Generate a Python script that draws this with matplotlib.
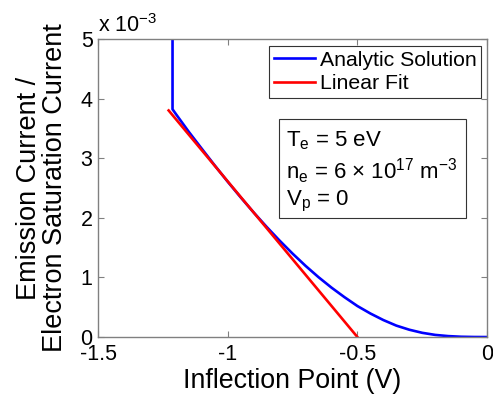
import matplotlib
matplotlib.use("Agg")
import matplotlib.pyplot as plt
from matplotlib.patches import Rectangle

plt.rcParams['font.family'] = ['Liberation Sans', 'DejaVu Sans']
plt.rcParams['mathtext.default'] = 'regular'

# analytic solution (inflection point V, emission / saturation current)
analytic_x = [-1.213, -1.213, -1.2, -1.15, -1.1, -1.05, -1.0, -0.95, -0.9,
              -0.85, -0.8, -0.75, -0.7, -0.65, -0.6, -0.55, -0.5, -0.45,
              -0.4, -0.35, -0.3, -0.25, -0.2, -0.15, -0.1, -0.05, 0.0]
analytic_y = [5.2e-3, 3.82e-3, 3.74e-3, 3.44e-3, 3.157e-3, 2.877e-3, 2.604e-3,
              2.342e-3, 2.089e-3, 1.847e-3, 1.617e-3, 1.399e-3, 1.194e-3,
              1.004e-3, 0.829e-3, 0.669e-3, 0.52e-3, 0.395e-3, 0.285e-3,
              0.192e-3, 0.123e-3, 0.071e-3, 0.036e-3, 0.016e-3, 0.005e-3,
              0.001e-3, 0.0]

# linear fit endpoints
fit_x = [-1.228, -0.5]
fit_y = [3.80e-3, 0.0]

xticks = [-1.5, -1, -0.5, 0]
xtick_labels = ['-1.5', '-1', '-0.5', '0']
yticks = [0, 1e-3, 2e-3, 3e-3, 4e-3, 5e-3]
ytick_labels = ['0', '1', '2', '3', '4', '5']

fig = plt.figure(figsize=(4.93, 3.97), dpi=100)
ax = fig.add_axes([0.199, 0.151, 0.789, 0.751])

ax.plot(analytic_x, analytic_y, color='#0000ff', lw=1.9, label='Analytic Solution')
ax.plot(fit_x, fit_y, color='#ff0000', lw=1.9, label='Linear Fit')

ax.set_xlim(-1.5, 0)
ax.set_ylim(0, 5e-3)
ax.set_xticks(xticks)
ax.set_xticklabels(xtick_labels)
ax.set_yticks(yticks)
ax.set_yticklabels(ytick_labels)
ax.tick_params(direction='in', length=4, width=0.8, color='#808080',
               labelsize=15.5, top=True, right=True)
ax.tick_params(axis='x', pad=5)
ax.tick_params(axis='y', pad=4)
for sp in ax.spines.values():
    sp.set_color('#808080')
    sp.set_linewidth(1.0)

ax.set_xlabel('Inflection Point (V)', fontsize=19.3, labelpad=2)
ax.set_ylabel('Emission Current /\nElectron Saturation Current', fontsize=19.5,
              labelpad=9, linespacing=1.0)

ax.text(0.0, 1.005, 'x 10$^{-3}$', transform=ax.transAxes, fontsize=15.5,
        ha='left', va='bottom')

leg = ax.legend(loc='upper right', fontsize=15.3, fancybox=False, framealpha=1,
                edgecolor='#333333', handlelength=1.9, handletextpad=0.25,
                borderpad=0.22, labelspacing=0.22, borderaxespad=0.0,
                bbox_to_anchor=(0.985, 0.9765))
leg.get_frame().set_linewidth(0.8)

# parameter box
ax.add_patch(Rectangle((0.4653, 0.3993), 0.481, 0.3322, transform=ax.transAxes,
                       fc='white', ec='#333333', lw=0.8, zorder=4))
ax.text(0.483, 0.697,
        'T$_e$ = 5 eV\nn$_e$ = 6 × 10$^{17}$ m$^{-3}$\nV$_p$ = 0',
        transform=ax.transAxes, fontsize=16, ha='left', va='top',
        linespacing=1.2, zorder=5)

fig.savefig('out.png', dpi=100)
